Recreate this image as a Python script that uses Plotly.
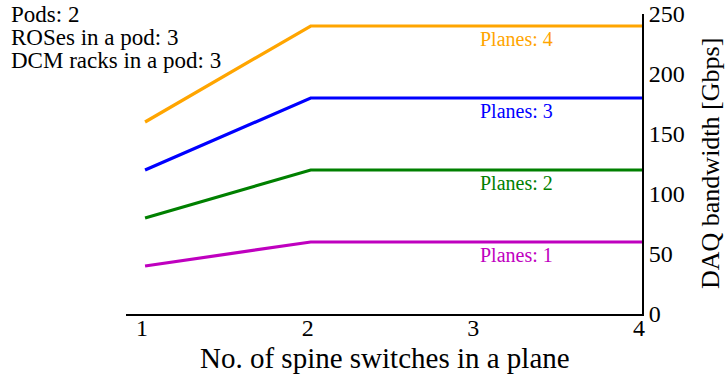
import plotly.graph_objects as go

spines = [1, 2, 3, 4]
planes = [1, 2, 3, 4]
bandwidth = {
    1: [40, 60, 60, 60],
    2: [80, 120, 120, 120],
    3: [120, 180, 180, 180],
    4: [160, 240, 240, 240],
}
colors = {1: "#BF00BF", 2: "#008000", 3: "#0000FF", 4: "#FFA500"}
info_lines = ["Pods: 2", "ROSes in a pod: 3", "DCM racks in a pod: 3"]
label_x = 3.24

FONT = "Liberation Serif, Times New Roman, serif"

fig = go.Figure()
for p in planes:
    fig.add_trace(go.Scatter(x=spines, y=bandwidth[p], mode="lines",
                             line=dict(color=colors[p], width=3.2),
                             showlegend=False, hoverinfo="skip"))
    fig.add_annotation(x=label_x, y=bandwidth[p][-1], text=f"Planes: {p}",
                       showarrow=False, yshift=-13, xanchor="center",
                       font=dict(family=FONT, size=20, color=colors[p]))

for i, line in enumerate(info_lines):
    fig.add_annotation(x=-0.2267, y=1.0 - i * 0.0767, xref="paper", yref="paper",
                       xanchor="left", yanchor="middle", text=line,
                       showarrow=False,
                       font=dict(family=FONT, size=23, color="black"))

fig.add_annotation(x=0.502, y=-0.148, xref="paper", yref="paper",
                   xanchor="center", yanchor="middle",
                   text="No. of spine switches in a plane", showarrow=False,
                   font=dict(family=FONT, size=29, color="black"))
fig.add_annotation(x=1.1318, y=0.5, xref="paper", yref="paper",
                   xanchor="center", yanchor="middle", textangle=-90,
                   text="DAQ bandwidth [Gbps]", showarrow=False,
                   font=dict(family=FONT, size=26, color="black"))

fig.update_layout(
    width=727, height=374,
    margin=dict(l=126, r=85, t=14, b=60, autoexpand=False),
    plot_bgcolor="white", paper_bgcolor="white",
    font=dict(family=FONT, size=24, color="black"),
    xaxis=dict(range=[0.885, 4], tickvals=spines, showgrid=False,
               zeroline=False, showline=True, linecolor="black", linewidth=2,
               ticks="", ticklen=0, automargin=False,
               ticklabelstandoff=-9, ticklabelshift=-3),
    yaxis=dict(range=[0, 250], side="right", tickvals=[0, 50, 100, 150, 200, 250],
               showgrid=False, zeroline=False, showline=True, linecolor="black",
               linewidth=2, ticks="", ticklen=0, automargin=False),
)

fig.write_html("out.html", config={"displayModeBar": False},
               post_script="document.body.style.margin='0';")
